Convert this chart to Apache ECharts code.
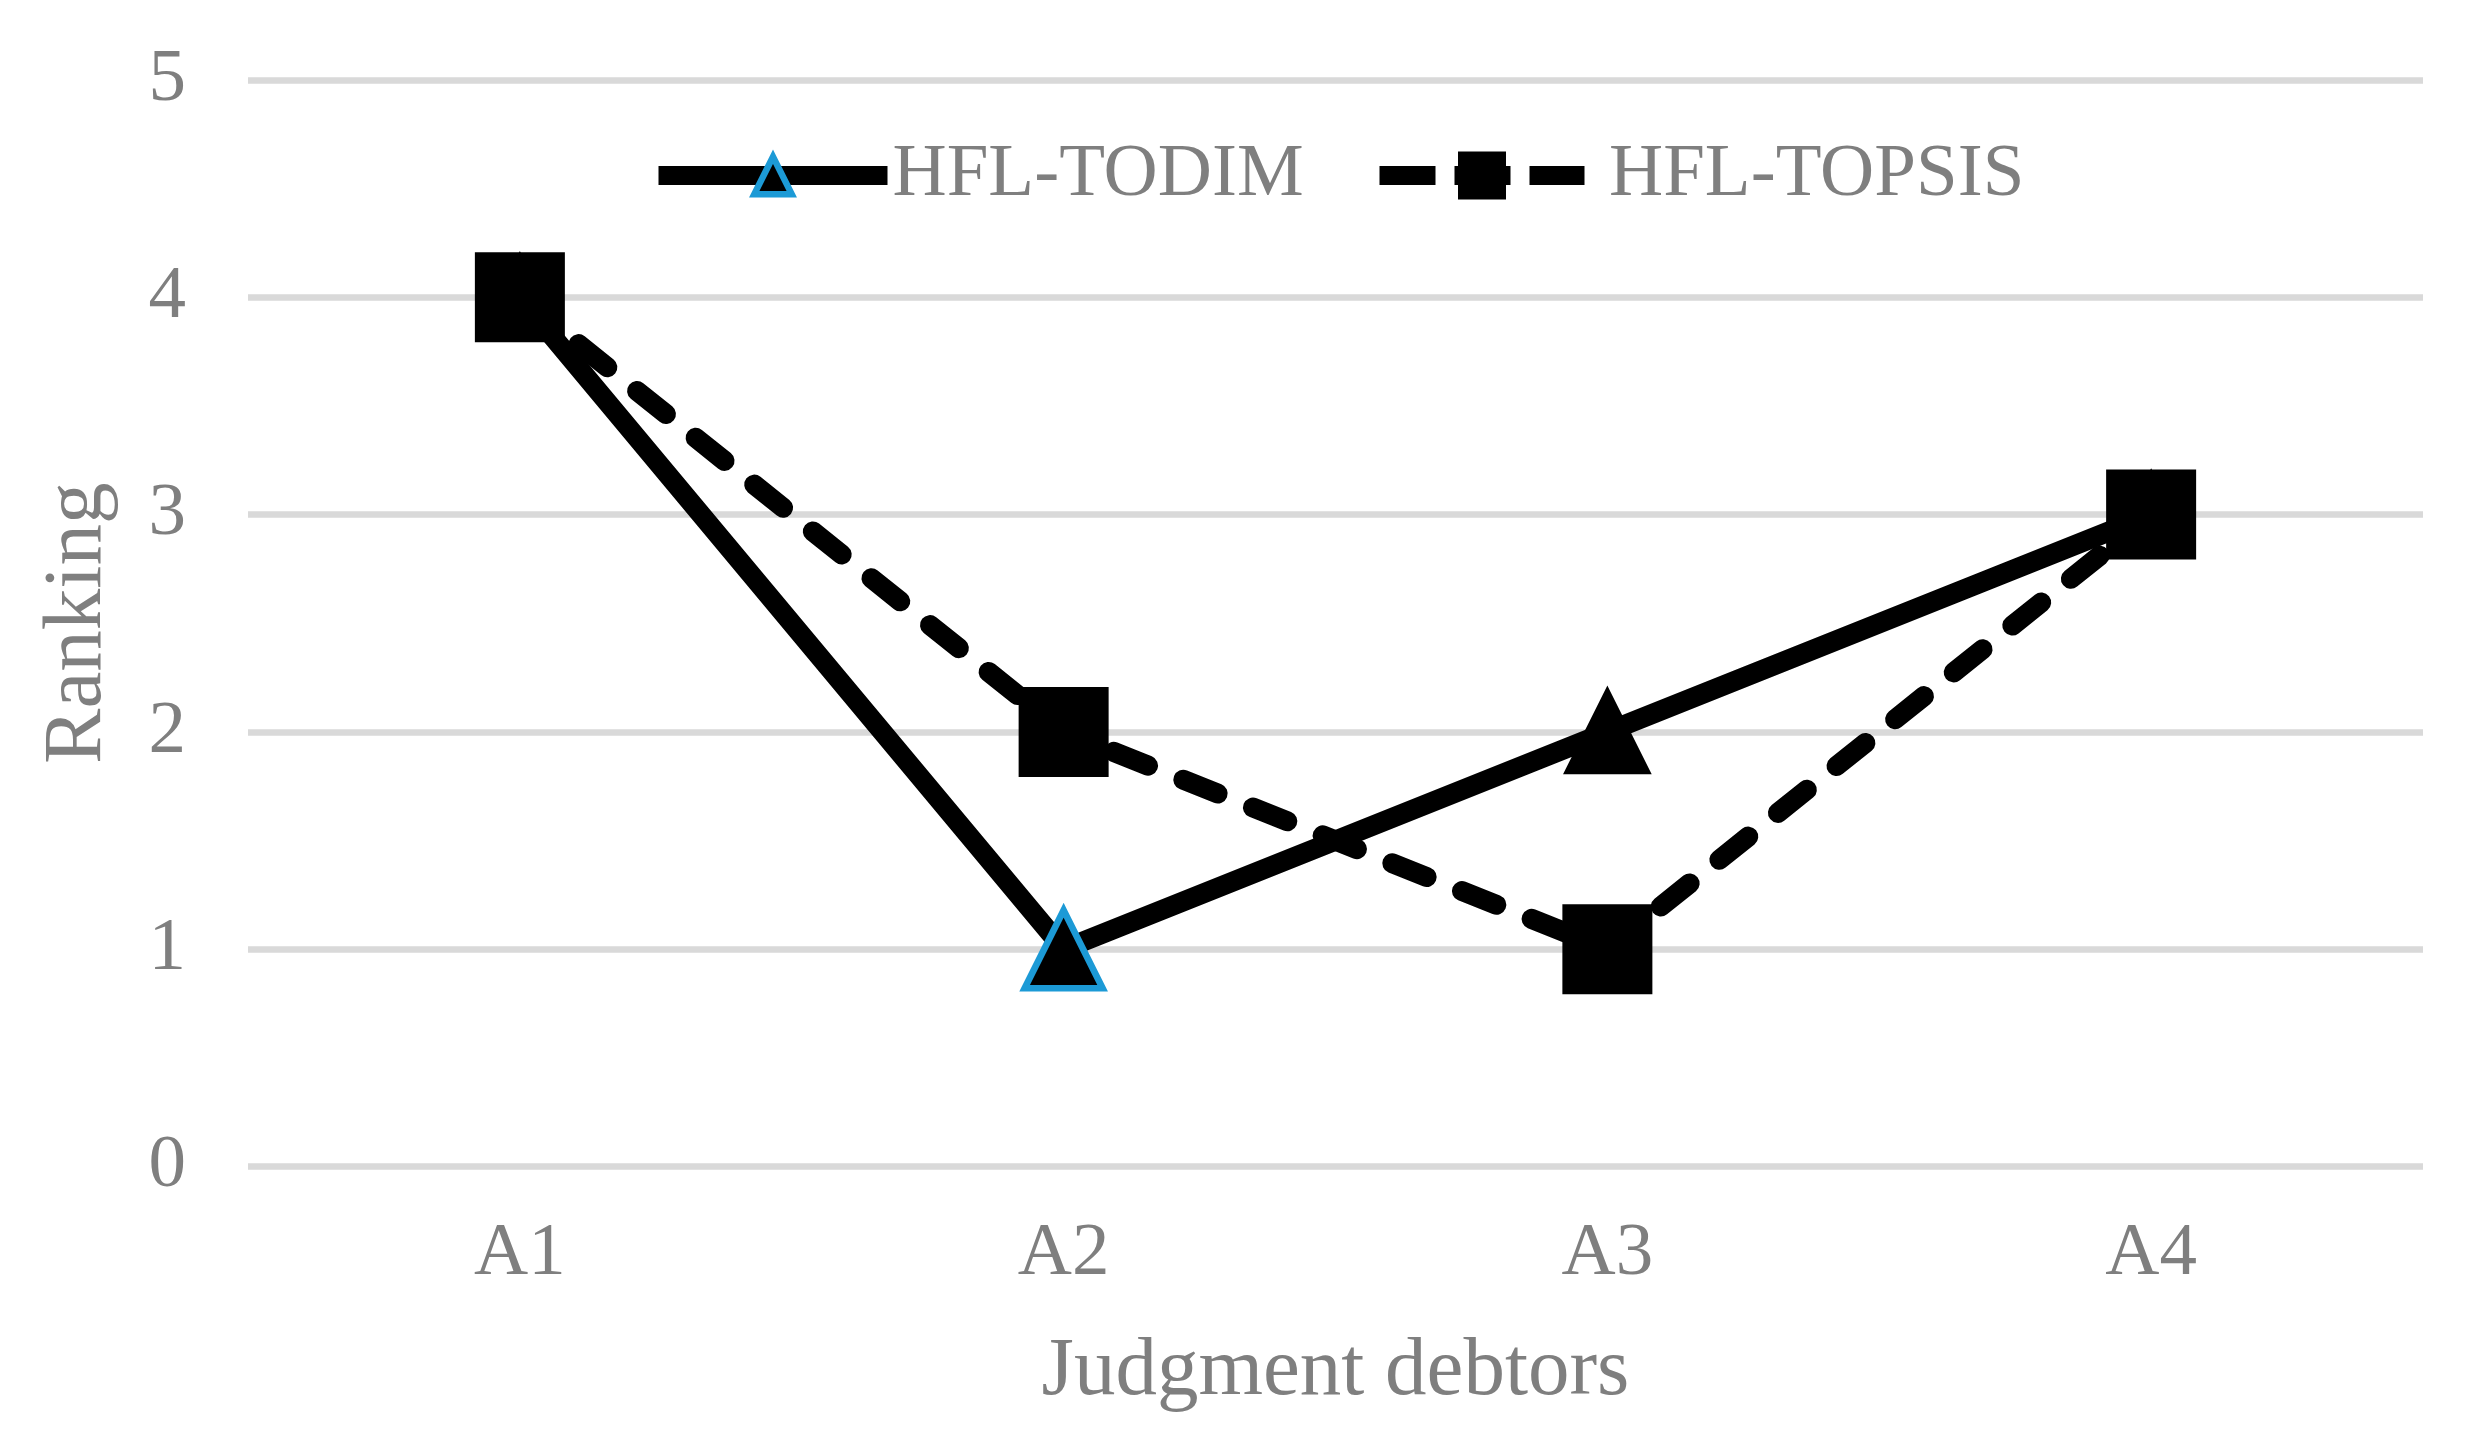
<!DOCTYPE html>
<html>
<head>
<meta charset="utf-8">
<script src="https://cdn.jsdelivr.net/npm/echarts@6/dist/echarts.min.js"></script>
<style>
  html, body { margin: 0; padding: 0; background: #ffffff; }
  #chart { width: 2466px; height: 1445px; }
</style>
</head>
<body>
<div id="chart"></div>
<script>
// ---- data ----
const categories = ['A1', 'A2', 'A3', 'A4'];
const seriesNames = ['HFL-TODIM', 'HFL-TOPSIS'];
const todimValues = [4, 1, 2, 3];
const topsisValues = [4, 2, 1, 3];
const yTicks = [0, 1, 2, 3, 4, 5];
const xAxisTitle = 'Judgment debtors';
const yAxisTitle = 'Ranking';
const outlinedCategory = 'A2';

// ---- styles ----
const FONT = '"Liberation Serif", "Times New Roman", serif';
const GRAY = '#7f7f7f';
const BLUE = '#1C9AD6';

const chart = echarts.init(document.getElementById('chart'), null, { renderer: 'canvas' });

const todimData = todimValues.map((v, i) => ({
  value: v,
  itemStyle: categories[i] === outlinedCategory ? {} : { borderColor: '#000000' }
}));

chart.setOption({
  animation: false,
  backgroundColor: '#ffffff',
  grid: { left: 248, right: 43, top: 80, bottom: 278.5, containLabel: false },
  legend: [
    {
      data: [seriesNames[0]],
      left: 649,
      top: 138,
      padding: 0,
      itemWidth: 229,
      itemHeight: 47,
      textStyle: { fontFamily: FONT, fontSize: 75, color: GRAY },
      lineStyle: { width: 19, cap: 'butt' },
      itemStyle: { borderWidth: 6.4, borderColor: BLUE }
    },
    {
      data: [seriesNames[1]],
      left: 1370,
      top: 138,
      padding: 0,
      itemWidth: 205,
      itemHeight: 60,
      textStyle: { fontFamily: FONT, fontSize: 75, color: GRAY, padding: [0, 0, 0, 19.5] },
      lineStyle: { width: 19, cap: 'butt', type: [56, 19] },
      itemStyle: { borderWidth: 0 }
    }
  ],
  xAxis: {
    type: 'category',
    data: categories,
    boundaryGap: true,
    axisLine: { show: false },
    axisTick: { show: false },
    axisLabel: { fontFamily: FONT, fontSize: 75, color: GRAY, margin: 50 },
    name: xAxisTitle,
    nameLocation: 'middle',
    nameGap: 164,
    nameTextStyle: { fontFamily: FONT, fontSize: 83, color: GRAY }
  },
  yAxis: {
    type: 'value',
    min: yTicks[0],
    max: yTicks[yTicks.length - 1],
    interval: 1,
    axisLine: { show: false },
    axisTick: { show: false },
    axisLabel: { fontFamily: FONT, fontSize: 75, color: GRAY, margin: 62 },
    splitLine: { lineStyle: { color: '#d9d9d9', width: 6.5 } },
    name: yAxisTitle,
    nameLocation: 'middle',
    nameGap: 128,
    nameTextStyle: { fontFamily: FONT, fontSize: 83, color: GRAY }
  },
  series: [
    {
      name: seriesNames[0],
      type: 'line',
      data: todimData,
      symbol: 'triangle',
      symbolSize: 78,
      showAllSymbol: true,
      lineStyle: { color: '#000000', width: 20, cap: 'round', join: 'round' },
      itemStyle: { color: '#000000', borderColor: BLUE, borderWidth: 6.6 }
    },
    {
      name: seriesNames[1],
      type: 'line',
      data: topsisValues,
      symbol: 'rect',
      symbolSize: 90,
      showAllSymbol: true,
      lineStyle: { color: '#000000', width: 20, type: [37, 38], cap: 'round', join: 'round' },
      itemStyle: { color: '#000000', borderWidth: 0 }
    }
  ]
});
</script>
</body>
</html>
